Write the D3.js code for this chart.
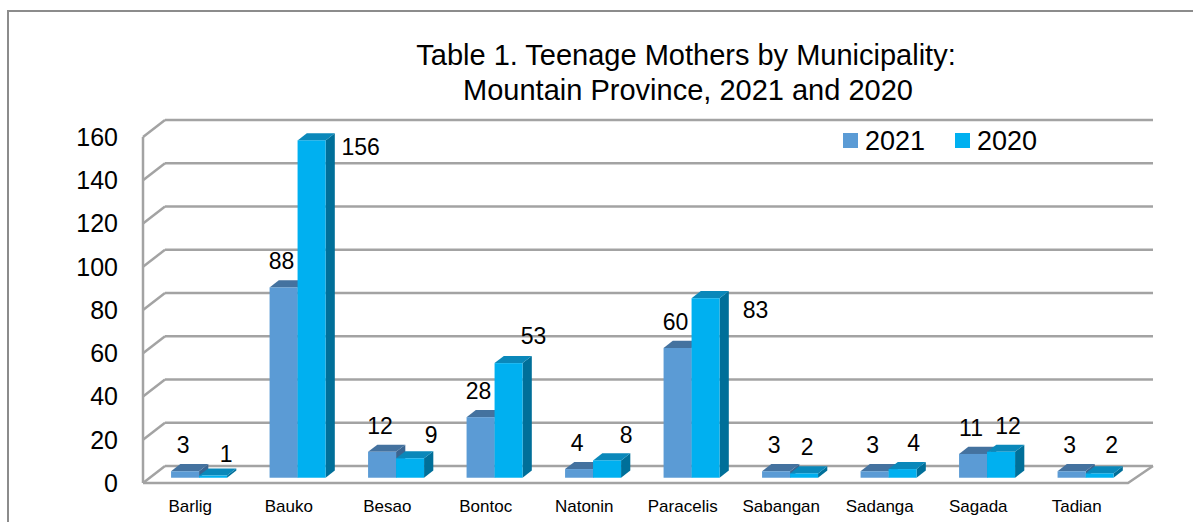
<!DOCTYPE html>
<html>
<head>
<meta charset="utf-8">
<script src="https://cdn.jsdelivr.net/npm/d3@7"></script>
<style>
  body { margin: 0; background: #fff; }
  text { font-family: "Liberation Sans", Arial, sans-serif; fill: #000; }
</style>
</head>
<body>
<div id="chart"></div>
<script>
// data
var categories = ["Barlig", "Bauko", "Besao", "Bontoc", "Natonin", "Paracelis", "Sabangan", "Sadanga", "Sagada", "Tadian"];
var series = ["2021", "2020"];
var values2021 = [3, 88, 12, 28, 4, 60, 3, 3, 11, 3];
var values2020 = [1, 156, 9, 53, 8, 83, 2, 4, 12, 2];
var yTicks = [0, 20, 40, 60, 80, 100, 120, 140, 160];

// where Excel dropped the 2020 labels, relative to the bar's front top
var label2020Nudge = [[13, -22], [49, 7], [21, -23], [25, -27], [19, -25], [50, 12], [3, -26], [11, -26], [7, -26], [12, -28]];

var W = 1193, H = 522;
var colors = {
  "2021": {front: "#5b9bd5", top: "#44729f", side: "#3a6591"},
  "2020": {front: "#00b0f0", top: "#0a88ba", side: "#006f99"}
};

// front plane of the 3d box
var x0 = 143, x1 = 1128;
var depthX = 22, depthY = -17;     // offset front -> back wall
var barZ0 = 0.31, barZ1 = 0.73;    // bar depth inside the box

var x = d3.scaleBand().domain(categories).range([x0, x1]).padding(0);
var xs = d3.scaleBand().domain(series).range([0, 56]);
var y = d3.scaleLinear().domain([0, 160]).range([483, 137]);

function px(xv, z) { return xv + z * depthX; }
function py(yv, z) { return yv + z * depthY; }

var svg = d3.select("#chart").append("svg")
  .attr("width", W)
  .attr("height", H);

// outer frame (top + left only are visible)
svg.append("path")
  .attr("d", "M8,522 L8,11 L1193,11")
  .attr("fill", "none")
  .attr("stroke", "#8c8c8c")
  .attr("stroke-width", 2);

// title
var title = svg.append("text")
  .attr("text-anchor", "middle")
  .style("font-size", "29px");
title.append("tspan").attr("x", 686).attr("y", 65).text("Table 1. Teenage Mothers by Municipality:");
title.append("tspan").attr("x", 688).attr("y", 100).text("Mountain Province, 2021 and 2020");

var grid = svg.append("g")
  .attr("fill", "none")
  .attr("stroke", "#a3a3a3")
  .attr("stroke-width", 2.5);

// back wall gridlines
grid.selectAll(".back")
  .data(yTicks)
  .enter().append("line")
  .attr("x1", px(x0, 1)).attr("x2", px(x1, 1) + 3)
  .attr("y1", function(d) { return py(y(d), 1); })
  .attr("y2", function(d) { return py(y(d), 1); });

// side wall gridlines
grid.selectAll(".side")
  .data(yTicks)
  .enter().append("line")
  .attr("x1", x0).attr("x2", px(x0, 1))
  .attr("y1", function(d) { return y(d); })
  .attr("y2", function(d) { return py(y(d), 1); });

// front edge of side wall
grid.append("line")
  .attr("x1", x0).attr("x2", x0)
  .attr("y1", y(0)).attr("y2", y(160));

// floor
grid.append("path")
  .attr("d", "M" + x0 + "," + y(0) + " L" + x1 + "," + y(0) +
             " L" + (px(x1, 1) + 3) + "," + py(y(0), 1));

// y tick labels
svg.selectAll(".ytick")
  .data(yTicks)
  .enter().append("text")
  .attr("text-anchor", "end")
  .attr("x", 118)
  .attr("y", function(d) { return y(d); })
  .attr("dy", "0.35em")
  .style("font-size", "25px")
  .text(function(d) { return d; });

// bars
var rows = [];
categories.forEach(function(c, i) {
  rows.push({cat: c, s: "2021", v: values2021[i], i: i});
  rows.push({cat: c, s: "2020", v: values2020[i], i: i});
});

var bars = svg.append("g");
rows.forEach(function(d) {
  var bx0 = px(x(d.cat) + x.bandwidth() / 2 - 28 + xs(d.s), barZ0);
  var bx1 = bx0 + xs.bandwidth();
  var yb = py(y(0), barZ0), yt = py(y(d.v), barZ0);
  var ddx = (barZ1 - barZ0) * depthX, ddy = (barZ1 - barZ0) * depthY;
  var c = colors[d.s];
  var g = bars.append("g");
  // right side
  g.append("path")
    .attr("d", "M" + bx1 + "," + yb + " L" + (bx1 + ddx) + "," + (yb + ddy) +
               " L" + (bx1 + ddx) + "," + (yt + ddy) + " L" + bx1 + "," + yt + "Z")
    .attr("fill", c.side);
  // top
  g.append("path")
    .attr("d", "M" + bx0 + "," + yt + " L" + bx1 + "," + yt +
               " L" + (bx1 + ddx) + "," + (yt + ddy) + " L" + (bx0 + ddx) + "," + (yt + ddy) + "Z")
    .attr("fill", c.top);
  // front
  g.append("rect")
    .attr("x", bx0).attr("y", yt)
    .attr("width", xs.bandwidth())
    .attr("height", yb - yt)
    .attr("fill", c.front);

  // data label
  var cx = (bx0 + bx1) / 2;
  var nudge = d.s === "2021" ? [-2, -26] : label2020Nudge[d.i];
  svg.append("text")
    .attr("text-anchor", "middle")
    .attr("x", cx + nudge[0])
    .attr("y", yt + nudge[1])
    .attr("dy", "0.35em")
    .style("font-size", "23px")
    .text(d.v);
});

// category labels
svg.selectAll(".xlab")
  .data(categories)
  .enter().append("text")
  .attr("text-anchor", "middle")
  .attr("x", function(d) { return x(d) + x.bandwidth() / 2 - 2; })
  .attr("y", 512)
  .style("font-size", "17px")
  .text(function(d) { return d; });

// legend
var legend = svg.append("g");
var legendX = [843, 955];
series.forEach(function(s, i) {
  legend.append("rect")
    .attr("x", legendX[i]).attr("y", 133)
    .attr("width", 15).attr("height", 15)
    .attr("fill", colors[s].front);
  legend.append("text")
    .attr("x", legendX[i] + 22)
    .attr("y", 150)
    .style("font-size", "27px")
    .text(s);
});
</script>
</body>
</html>
